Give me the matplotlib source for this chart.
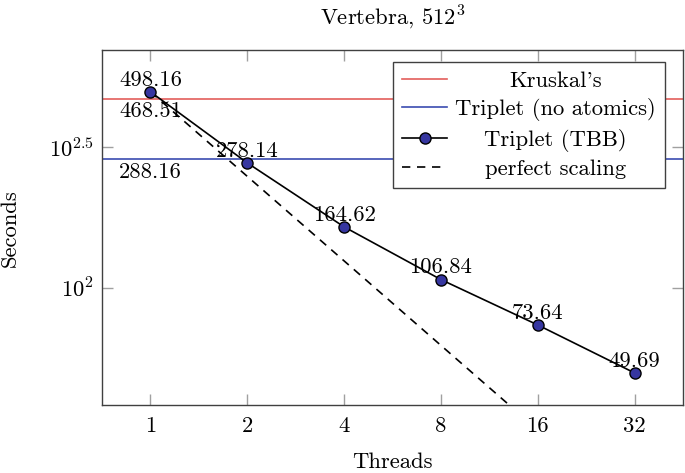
import matplotlib
matplotlib.use("Agg")
import matplotlib.pyplot as plt
from matplotlib.ticker import NullLocator

plt.rcParams['font.family'] = 'cmr10'
plt.rcParams['mathtext.fontset'] = 'cm'
plt.rcParams['axes.unicode_minus'] = False

threads = [1, 2, 4, 8, 16, 32]
tbb = [498.16, 278.14, 164.62, 106.84, 73.64, 49.69]
perfect = [498.16, 249.08, 124.54, 62.27, 31.14, 15.57]
kruskal = 468.51
no_atomics = 288.16

FS = 16.3

fig = plt.figure(figsize=(6.85, 4.73), dpi=100)
ax = fig.add_axes([102 / 685, 1 - 405 / 473, 581 / 685, 354.5 / 473])

ax.axhline(kruskal, color='#e35d5b', lw=1.2, label="Kruskal's")
ax.axhline(no_atomics, color='#3b4cb0', lw=1.2, label='Triplet (no atomics)')
ax.plot(threads, tbb, color='black', lw=1.2, marker='o', markersize=8,
        markerfacecolor='#3636a0', markeredgecolor='black', markeredgewidth=1,
        label='Triplet (TBB)', zorder=4)
ax.plot(threads, perfect, color='black', lw=1.2, dashes=(5, 4), label='perfect scaling')

for t, v in zip(threads, tbb):
    ax.annotate('%.2f' % v, (t, v), xytext=(0, 4.5), textcoords='offset points',
                ha='center', va='baseline', fontsize=FS, zorder=5)
ax.annotate('%.2f' % kruskal, (threads[0], kruskal), xytext=(0, -12.8),
            textcoords='offset points', ha='center', va='baseline', fontsize=FS)
ax.annotate('%.2f' % no_atomics, (threads[0], no_atomics), xytext=(0, -14),
            textcoords='offset points', ha='center', va='baseline', fontsize=FS)

ax.set_xscale('log', base=2)
ax.set_yscale('log')
ax.set_xlim(2 ** -0.5, 2 ** 5.5)
ax.set_ylim(38.2, 699)
ax.set_xticks(threads)
ax.set_xticklabels([str(t) for t in threads])
ax.set_yticks([100, 10 ** 2.5])
ax.set_yticklabels(['$10^{2}$', '$10^{2.5}$'])
ax.xaxis.set_minor_locator(NullLocator())
ax.yaxis.set_minor_locator(NullLocator())
ax.tick_params(direction='in', length=8, width=1, color='#a0a0a0',
               top=True, right=True, labelsize=FS)
ax.tick_params(axis='x', pad=8)
ax.tick_params(axis='y', pad=6)
for s in ax.spines.values():
    s.set_color('#404040')
    s.set_linewidth(1)

ax.set_xlabel('Threads', fontsize=FS, labelpad=12)
ax.set_ylabel('Seconds', fontsize=FS, labelpad=21)
ax.set_title('Vertebra, $512^3$', fontsize=FS, pad=19)

leg = ax.legend(loc='upper right', bbox_to_anchor=(0.969, 0.9676), borderaxespad=0,
                fontsize=FS, fancybox=False, framealpha=1, edgecolor='#404040',
                handlelength=2.0, handletextpad=0.35, labelspacing=0.33,
                borderpad=0.4)
leg.get_frame().set_linewidth(1)

# center legend texts like pgfplots does
renderer = fig.canvas.get_renderer()
widths = [t.get_window_extent(renderer).width for t in leg.get_texts()]
wmax = max(widths)
k = 0
for col in leg._legend_handle_box.get_children():
    for row in col.get_children():
        row.sep += (wmax - widths[k]) / 2 * 72 / fig.dpi
        k += 1

fig.savefig('out.png', dpi=100)
